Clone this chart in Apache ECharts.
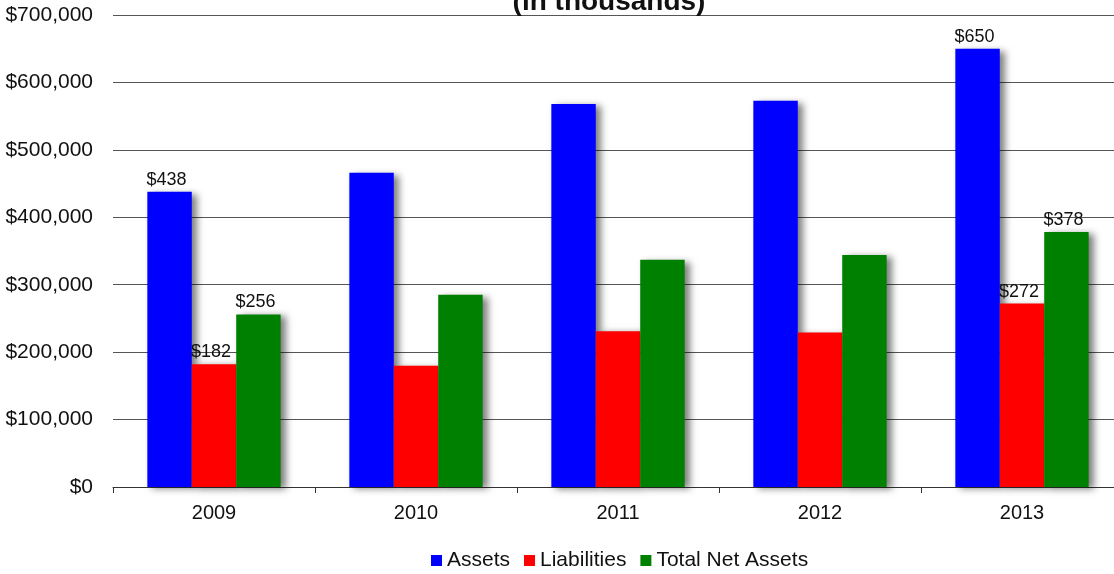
<!DOCTYPE html>
<html>
<head>
<meta charset="utf-8">
<script src="https://cdn.jsdelivr.net/npm/echarts@6/dist/echarts.min.js"></script>
<style>
  html, body { margin: 0; padding: 0; background: #ffffff; }
  #chart { width: 1114px; height: 574px; }
</style>
</head>
<body>
<div id="chart"></div>
<script>
// Statement of net assets, values in thousands of dollars
const years = ['2009', '2010', '2011', '2012', '2013'];
const assets = [438, 466, 568, 573, 650];
const liabilities = [182, 180, 231, 229, 272];
const totalNetAssets = [256, 285, 337, 344, 378];
// Years whose bars carry a value label
const labelledYears = ['2009', '2013'];

const FONT = '"Liberation Sans", Arial, sans-serif';

function withLabels(values) {
  return values.map(function (v, i) {
    return {
      value: v,
      label: { show: labelledYears.indexOf(years[i]) !== -1 }
    };
  });
}

function money(v) {
  return '$' + Math.round(v * 1000).toLocaleString('en-US');
}

function barSeries(name, values, color) {
  return {
    name: name,
    type: 'bar',
    data: withLabels(values),
    barGap: '0%',
    barCategoryGap: '34%',
    itemStyle: {
      color: color,
      shadowColor: 'rgba(0,0,0,0.5)',
      shadowBlur: 7,
      shadowOffsetX: 5,
      shadowOffsetY: 2
    },
    label: {
      position: 'top',
      distance: 3,
      offset: [-3, 0],
      color: '#111',
      fontFamily: FONT,
      fontSize: 18,
      formatter: function (p) { return '$' + p.value; }
    },
    emphasis: { disabled: true },
    animation: false
  };
}

const chart = echarts.init(document.getElementById('chart'), null, { renderer: 'canvas' });
chart.setOption({
  backgroundColor: '#ffffff',
  title: {
    text: '(in thousands)',
    left: 604,
    top: -17,
    textAlign: 'center',
    textStyle: { fontFamily: FONT, fontSize: 28, fontWeight: 'bold', color: '#111' }
  },
  legend: {
    top: 545,
    left: 426,
    itemWidth: 11,
    itemHeight: 11,
    itemGap: 14,
    icon: 'rect',
    textStyle: { fontFamily: FONT, fontSize: 21, color: '#111' },
    data: ['Assets', 'Liabilities', 'Total Net Assets']
  },
  grid: {
    left: 113, width: 1010, top: 15, height: 472,
    containLabel: false,
    outerBoundsMode: 'none'
  },
  xAxis: {
    type: 'category',
    data: years,
    axisLine: { lineStyle: { color: '#333', width: 1 } },
    axisTick: { show: true, length: 6, lineStyle: { color: '#333' } },
    axisLabel: { margin: 16, fontFamily: FONT, fontSize: 20, color: '#111' }
  },
  yAxis: {
    type: 'value',
    min: 0,
    max: 700,
    interval: 100,
    axisLine: { show: false },
    axisTick: { show: false },
    splitLine: { lineStyle: { color: '#555', width: 1.2 } },
    axisLabel: { margin: 20, fontFamily: FONT, fontSize: 21, color: '#111', formatter: money }
  },
  series: [
    barSeries('Assets', assets, '#0000ff'),
    barSeries('Liabilities', liabilities, '#ff0000'),
    barSeries('Total Net Assets', totalNetAssets, '#008000')
  ]
});
</script>
</body>
</html>
